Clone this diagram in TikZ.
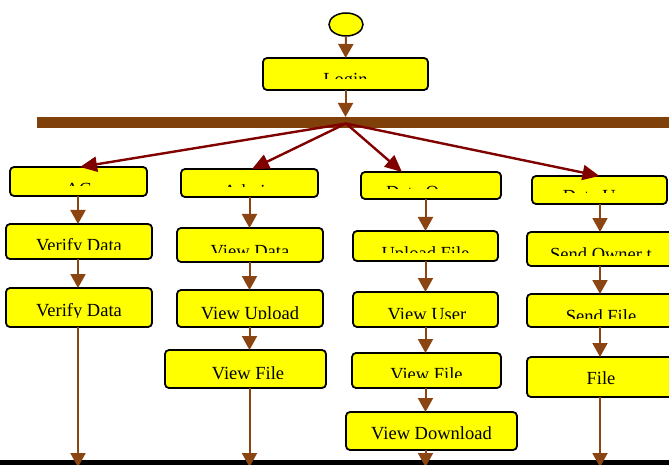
\documentclass[tikz,border=0pt]{standalone}
\usepackage{fontspec}
\setmainfont{Liberation Serif}
\usetikzlibrary{arrows.meta,shapes.geometric}
\definecolor{boxyellow}{RGB}{255,255,0}
\definecolor{flowbrown}{RGB}{139,69,19}
\definecolor{barbrown}{RGB}{128,64,10}
\definecolor{forkred}{RGB}{128,0,0}
\tikzset{
  boxst/.style={draw=black, line width=1.8pt, fill=boxyellow, rounded corners=4pt, inner sep=0pt, outer sep=0pt},
  txtst/.style={anchor=base, inner sep=0pt, font=\fontsize{18.5}{20}\selectfont},
  flow/.style={draw=flowbrown, line width=2pt, -{Triangle[length=14pt,width=15pt]}},
  forkarrow/.style={draw=forkred, line width=2.4pt, -{Triangle[length=17pt,width=15pt]}},
}
% name, x1, y1, x2, y2, text, text centre x, baseline y, clip y
\newcommand\flowbox[9]{%
  \node[boxst, minimum width={(#4-#2)*1pt}, minimum height={(#5-#3)*1pt}] (#1) at ({(#2+#4)/2},{(#3+#5)/2}) {};
  \begin{scope}
    \clip (#2+1,#3+1) rectangle (#4-1,#9);
    \node[txtst] (#1-t) at (#7,#8) {#6};
  \end{scope}}
\begin{document}
\begin{tikzpicture}[x=1pt,y=-1pt]
\clip (0,0) rectangle (669,465);
\useasboundingbox (0,0) rectangle (669,465);
\fill[white] (0,0) rectangle (669,465);
\coordinate (col1) at (78,0);
\coordinate (col2) at (249.5,0);
\coordinate (col3) at (425.5,0);
\coordinate (col4) at (600,0);

\node[ellipse, draw=black, line width=1.5pt, fill=boxyellow, minimum width=34pt, minimum height=23pt, inner sep=0pt] (start) at (346,24.5) {};
\flowbox{login}{263}{58}{428}{90}{Login}{345.5}{85.3}{79}
\node[fill=barbrown, minimum width=640pt, minimum height=11pt, inner sep=0pt, anchor=north west] (bar) at (37,117) {};
\node[fill=black, minimum width=680pt, minimum height=8pt, inner sep=0pt, anchor=north west] (botbar) at (-5,460) {};

% column 1
\flowbox{c1a}{10}{167}{147}{196}{AC}{78.5}{195.3}{185.5}
\flowbox{c1b}{6}{224}{152}{259}{Verify Data}{79}{251.3}{249}
\flowbox{c1c}{6}{288}{152}{327}{Verify Data}{79}{316.3}{317.5}
% column 2
\flowbox{c2a}{181}{169}{318}{197}{Admin}{249}{197}{186.5}
\flowbox{c2b}{177}{228}{323}{262}{View Data}{250}{257.3}{252}
\flowbox{c2c}{177}{290}{323}{327}{View Upload}{250}{319.3}{318}
\flowbox{c2d}{165}{350}{326}{388}{View File}{248}{379.3}{378.5}
% column 3
\flowbox{c3a}{361}{172}{501}{199}{Data Owner}{431}{198.3}{189}
\flowbox{c3b}{353}{231}{498}{261}{Upload File}{425.5}{259.3}{252}
\flowbox{c3c}{353}{292}{498}{327}{View User}{427}{320.3}{318}
\flowbox{c3d}{352}{353}{501}{388}{View File}{426.5}{380.3}{377}
\flowbox{c3e}{346}{412}{517}{450}{View Download}{431.5}{439.5}{449}
% column 4
\flowbox{c4a}{532}{176}{667}{204}{Data User}{600}{202.3}{193}
\flowbox{c4b}{527}{232}{675}{266}{Send Owner t}{601}{260.3}{255}
\flowbox{c4c}{527}{294}{675}{327}{Send File}{601}{322.3}{318}
\flowbox{c4d}{527}{357}{675}{397}{File}{601}{384.5}{396}

% ends at the bottom bar
\coordinate (e1) at (78,467);
\coordinate (e2) at (249.5,467);
\coordinate (e3) at (425.5,467);
\coordinate (e4) at (600,467);
\coordinate (fork) at (346,123.5);

% connectors
\draw[flow] (start) -- (login);
\draw[flow] (login.south) -- (login.south |- bar.north);
\draw[forkarrow] (fork) -- ([xshift=1.5pt]c1a.north);
\draw[forkarrow] (fork) -- ([xshift=2.5pt]c2a.north);
\draw[forkarrow] (fork) -- ([xshift=-29pt]c3a.north);
\draw[forkarrow] (fork) -- (c4a.north);

\draw[flow] (c1a.south -| col1) -- (c1b.north -| col1);
\draw[flow] (c1b.south -| col1) -- (c1c.north -| col1);
\draw[flow] (c1c.south -| col1) -- (e1);

\draw[flow] (c2a.south -| col2) -- (c2b.north -| col2);
\draw[flow] (c2b.south -| col2) -- (c2c.north -| col2);
\draw[flow] (c2c.south -| col2) -- (c2d.north -| col2);
\draw[flow] (c2d.south -| col2) -- (e2);

\draw[flow] (c3a.south -| col3) -- (c3b.north -| col3);
\draw[flow] (c3b.south -| col3) -- (c3c.north -| col3);
\draw[flow] (c3c.south -| col3) -- (c3d.north -| col3);
\draw[flow] (c3d.south -| col3) -- (c3e.north -| col3);
\draw[flow] (c3e.south -| col3) -- (e3);

\draw[flow] (c4a.south -| col4) -- (c4b.north -| col4);
\draw[flow] (c4b.south -| col4) -- (c4c.north -| col4);
\draw[flow] (c4c.south -| col4) -- (c4d.north -| col4);
\draw[flow] (c4d.south -| col4) -- (e4);
\end{tikzpicture}
\end{document}
